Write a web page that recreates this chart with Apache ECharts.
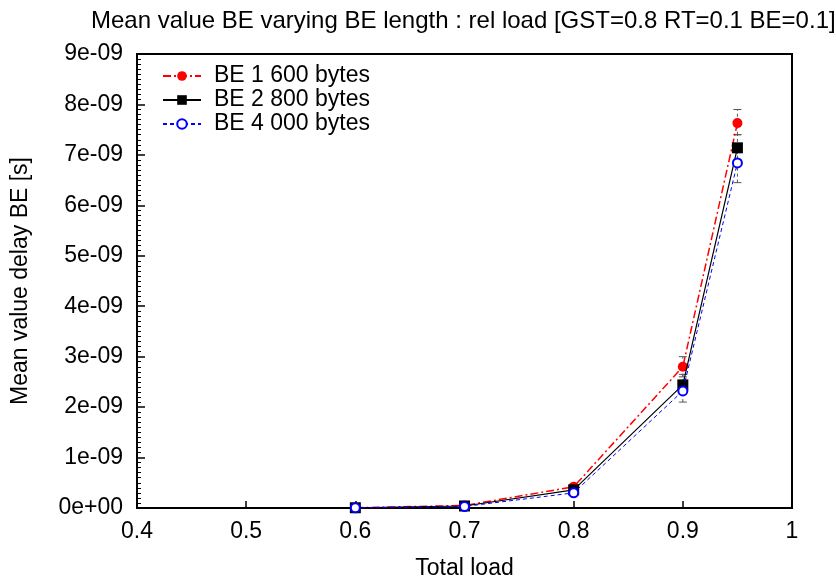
<!DOCTYPE html>
<html>
<head>
<meta charset="utf-8">
<script src="https://cdn.jsdelivr.net/npm/echarts@6/dist/echarts.min.js"></script>
<style>html,body{margin:0;padding:0;background:#fff}#c{width:836px;height:585px}</style>
</head>
<body>
<div id="c"></div>
<script>
const loads = [0.6, 0.7, 0.8, 0.9, 0.95];
const be1600 = [0.005e-9, 0.05e-9, 0.42e-9, 2.80e-9, 7.63e-9];
const be2800 = [0.005e-9, 0.04e-9, 0.36e-9, 2.44e-9, 7.14e-9];
const be4000 = [0.004e-9, 0.03e-9, 0.30e-9, 2.32e-9, 6.84e-9];
const err1600 = [[0, 0.01e-9], [0.04e-9, 0.06e-9], [0.38e-9, 0.46e-9], [2.6e-9, 3.0e-9], [7.4e-9, 7.9e-9]];
const err2800 = [[0, 0.01e-9], [0.03e-9, 0.05e-9], [0.32e-9, 0.40e-9], [2.25e-9, 2.65e-9], [6.9e-9, 7.4e-9]];
const err4000 = [[0, 0.01e-9], [0.02e-9, 0.04e-9], [0.26e-9, 0.34e-9], [2.1e-9, 2.5e-9], [6.45e-9, 7.2e-9]];
const seriesNames = ['BE 1 600 bytes', 'BE 2 800 bytes', 'BE 4 000 bytes'];
const yTickLabels = ['0e+00','1e-09','2e-09','3e-09','4e-09','5e-09','6e-09','7e-09','8e-09','9e-09'];

const FONT = 'Liberation Sans';
const FS = 23;
const chart = echarts.init(document.getElementById('c'));

function pairs(ys){ return loads.map((x,i)=>[x, ys[i]]); }
function errData(e){ return loads.map((x,i)=>[x, e[i][0], e[i][1]]); }
function errSeries(e, color, type){
  return {
    type: 'custom', silent: true, z: 1,
    data: errData(e),
    encode: {x: 0, y: [1, 2]},
    renderItem: function(params, api){
      const lo = api.coord([api.value(0), api.value(1)]);
      const hi = api.coord([api.value(0), api.value(2)]);
      const w = 4;
      const st = {stroke: color, lineWidth: 1, lineDash: type};
      return {type: 'group', children: [
        {type:'line', shape:{x1:lo[0], y1:lo[1], x2:hi[0], y2:hi[1]}, style: st},
        {type:'line', shape:{x1:lo[0]-w, y1:lo[1], x2:lo[0]+w, y2:lo[1]}, style: {stroke: color, lineWidth: 1}},
        {type:'line', shape:{x1:hi[0]-w, y1:hi[1], x2:hi[0]+w, y2:hi[1]}, style: {stroke: color, lineWidth: 1}}
      ]};
    }
  };
}

const axisText = {color: '#000', fontFamily: FONT, fontSize: FS};
chart.setOption({
  animation: false,
  backgroundColor: '#fff',
  title: {
    text: 'Mean value BE varying BE length : rel load [GST=0.8 RT=0.1 BE=0.1]',
    left: 86, top: 4,
    textStyle: {color: '#000', fontFamily: FONT, fontSize: 24, fontWeight: 'normal'}
  },
  legend: {
    left: 157, top: 59, orient: 'vertical', itemGap: 0, itemWidth: 38, itemHeight: 12,
    textStyle: {color: '#000', fontFamily: FONT, fontSize: FS, lineHeight: 24, padding: [0,0,0,8]},
    data: seriesNames
  },
  grid: {left: 137, right: 44, top: 54, bottom: 76, show: true, borderColor: '#000', borderWidth: 2},
  xAxis: {
    type: 'value', min: 0.4, max: 1, interval: 0.1,
    name: 'Total load', nameLocation: 'middle', nameGap: 49,
    nameTextStyle: axisText,
    axisLine: {show: true, lineStyle: {color: '#000', width: 2}},
    axisTick: {inside: true, length: 7, lineStyle: {color: '#000', width: 1.5}},
    axisLabel: Object.assign({margin: 12, formatter: v => (Math.round(v*10)/10 === 1 ? '1' : (Math.round(v*10)/10).toFixed(1))}, axisText),
    splitLine: {show: false}
  },
  yAxis: {
    type: 'value', min: 0, max: 9e-9, interval: 1e-9,
    name: 'Mean value delay BE [s]', nameLocation: 'middle', nameGap: 105,
    nameTextStyle: axisText,
    axisLine: {show: true, lineStyle: {color: '#000', width: 2}},
    axisTick: {inside: true, length: 8, lineStyle: {color: '#000', width: 1.5}},
    minorTick: {show: true, splitNumber: 10, length: 4, lineStyle: {color: '#000', width: 1}},
    axisLabel: Object.assign({margin: 14, formatter: v => yTickLabels[Math.round(v/1e-9)]}, axisText),
    splitLine: {show: false}
  },
  series: [
    errSeries(err1600, '#555', [3,3]),
    errSeries(err2800, '#555', [3,3]),
    errSeries(err4000, '#555', [3,3]),
    {
      name: seriesNames[0], type: 'line', data: pairs(be1600), z: 3,
      symbol: 'circle', symbolSize: 10, color: '#ff0000',
      lineStyle: {color: '#ff0000', width: 1.5, type: [8,3,2,3]},
      itemStyle: {color: '#ff0000'}
    },
    {
      name: seriesNames[1], type: 'line', data: pairs(be2800), z: 4,
      symbol: 'rect', symbolSize: 11, color: '#000',
      lineStyle: {color: '#000', width: 1.2, type: 'solid'},
      itemStyle: {color: '#000'}
    },
    {
      name: seriesNames[2], type: 'line', data: pairs(be4000), z: 5,
      symbol: 'emptyCircle', symbolSize: 9, color: '#0000ff',
      lineStyle: {color: '#0000ff', width: 1, type: [4,3]},
      itemStyle: {color: '#0000ff', borderColor: '#0000ff', borderWidth: 1.3}
    }
  ]
});
</script>
</body>
</html>
